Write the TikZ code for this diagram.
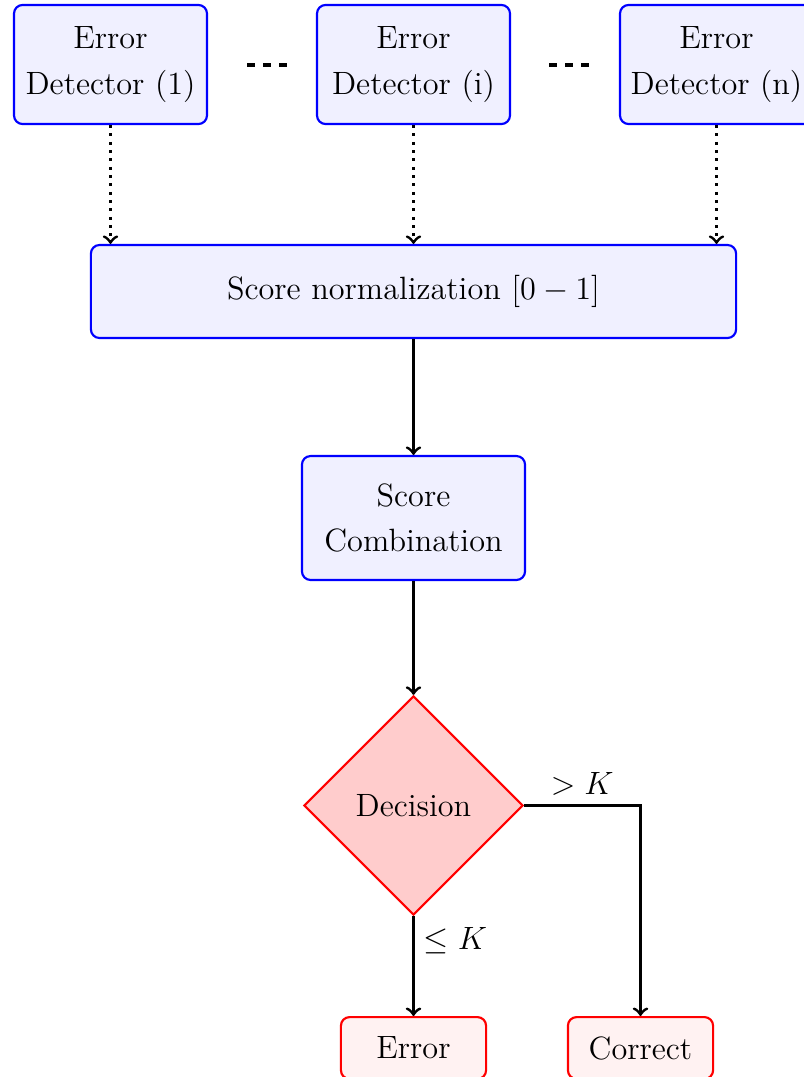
\documentclass[tikz,border=0pt]{standalone}
\usetikzlibrary{shapes.geometric,positioning}

\begin{document}
\begin{tikzpicture}[
  x=0.372pt, y=-0.372pt,
  font=\fontsize{12}{17}\selectfont,
  every node/.style={align=center},
  procbox/.style={draw=blue, thick, fill=blue!6, rounded corners=3.2pt,
    inner sep=0pt},
  detbox/.style={procbox, minimum width=71.8pt, minimum height=44.3pt},
  outbox/.style={draw=red, thick, fill=red!5, rounded corners=3.2pt,
    inner sep=0pt, minimum width=54pt, minimum height=23pt},
  decbox/.style={diamond, draw=red, thick, fill=red!20, inner sep=0pt,
    minimum width=81.5pt, minimum height=81.5pt},
  flow/.style={->, line width=1.1pt},
  feed/.style={->, line width=1.1pt, dotted},
]
\useasboundingbox (0,0) rectangle (803,1077);

% detectors
\node[detbox] (d1) at (110.5,64.5) {Error\\Detector (1)};
\node[detbox] (di) at (413.5,64.5) {Error\\Detector (i)};
\node[detbox] (dn) at (716.5,64.5) {Error\\Detector (n)};

% ellipsis between detectors
\coordinate (e1a) at (247,65);
\coordinate (e1b) at (287,65);
\coordinate (e2a) at (549,65);
\coordinate (e2b) at (589,65);
\draw[dashed, line width=1.2pt] (e1a) -- (e1b);
\draw[dashed, line width=1.2pt] (e2a) -- (e2b);

% processing chain
\node[procbox, minimum width=240pt, minimum height=34.6pt] (norm) at (413.5,291.5)
  {Score normalization $[0-1]$};
\node[procbox, minimum width=83pt, minimum height=46.1pt] (comb) at (413.5,518)
  {Score\\Combination};
\node[decbox] (dec) at (413.5,805.5) {Decision};
\node[outbox] (err) at (413.5,1048) {Error};
\node[outbox] (cor) at (640.5,1048) {Correct};

% connectors
\draw[feed] (d1) -- (d1 |- norm.north);
\draw[feed] (di) -- (di |- norm.north);
\draw[feed] (dn) -- (dn |- norm.north);
\draw[flow] (norm) -- (comb);
\draw[flow] (comb) -- (dec);
\draw[flow] (dec.south) -- node[right, pos=0.25] {$\leq K$} (err.north);
\draw[flow] (dec.east) -| node[above, pos=0.25] {$>K$} (cor.north);
\end{tikzpicture}
\end{document}
